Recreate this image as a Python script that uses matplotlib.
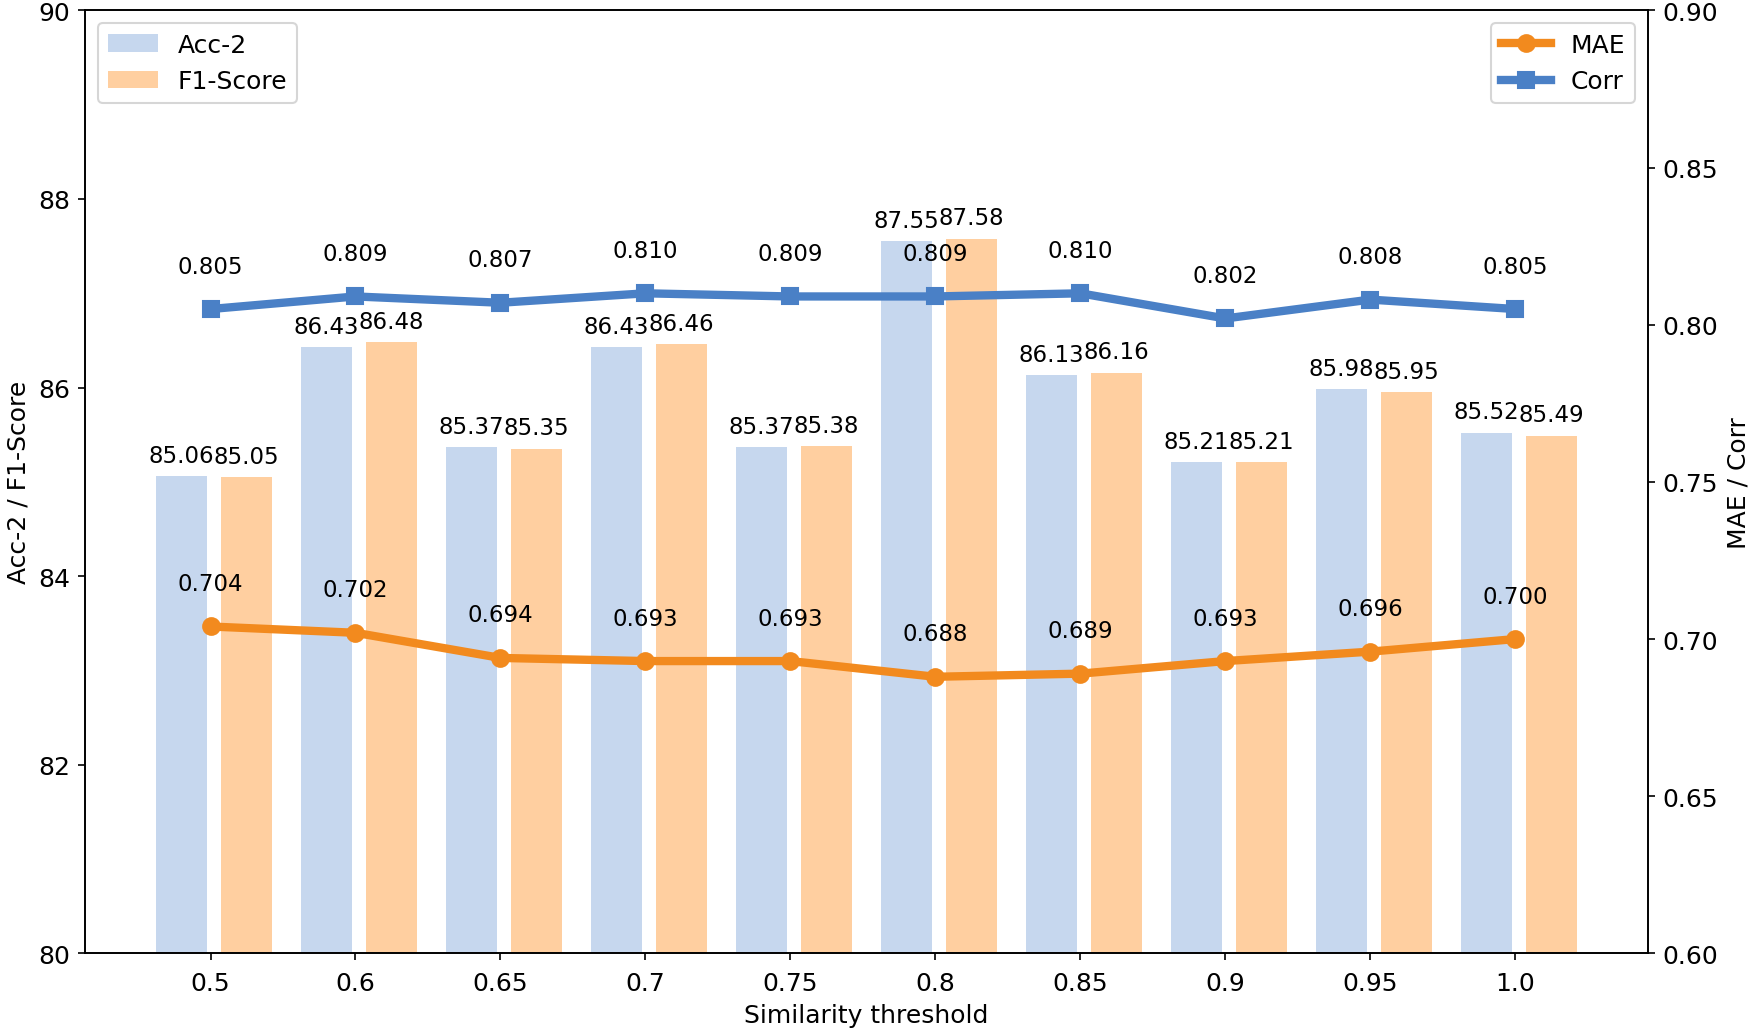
import numpy as np
import matplotlib
matplotlib.use('Agg')
import matplotlib.pyplot as plt

# data
thresholds = ['0.5', '0.6', '0.65', '0.7', '0.75', '0.8', '0.85', '0.9', '0.95', '1.0']
acc2 = [85.06, 86.43, 85.37, 86.43, 85.37, 87.55, 86.13, 85.21, 85.98, 85.52]
f1 = [85.05, 86.48, 85.35, 86.46, 85.38, 87.58, 86.16, 85.21, 85.95, 85.49]
mae = [0.704, 0.702, 0.694, 0.693, 0.693, 0.688, 0.689, 0.693, 0.696, 0.700]
corr = [0.805, 0.809, 0.807, 0.810, 0.809, 0.809, 0.810, 0.802, 0.808, 0.805]

plt.rcParams['font.family'] = ['DejaVu Sans']

fig, ax1 = plt.subplots(figsize=(11.7, 6.893), dpi=150)
fig.subplots_adjust(left=0.0485, right=0.939, top=0.989, bottom=0.077)

x = np.arange(len(thresholds))
width = 0.35

b1 = ax1.bar(x - 0.2, acc2, width, color='#aec7e8', alpha=0.7, label='Acc-2')
b2 = ax1.bar(x + 0.25, f1, width, color='#ffbb78', alpha=0.7, label='F1-Score')
for i in range(len(x)):
    ax1.text(x[i] - 0.2, acc2[i] + 0.1, '%.2f' % acc2[i], ha='center', va='bottom', fontsize=11)
    ax1.text(x[i] + 0.25, f1[i] + 0.1, '%.2f' % f1[i], ha='center', va='bottom', fontsize=11)

ax1.set_ylim(80, 90)
ax1.set_yticks([80, 82, 84, 86, 88, 90])
ax1.set_xticks(x)
ax1.set_xticklabels(thresholds)
ax1.set_xlabel('Similarity threshold', fontsize=12)
ax1.set_ylabel('Acc-2 / F1-Score', fontsize=12)
ax1.tick_params(labelsize=12)
ax1.tick_params(axis='x', pad=5)

ax2 = ax1.twinx()
l1, = ax2.plot(x, mae, color='#f28a1e', marker='o', linewidth=4, markersize=8, label='MAE')
l2, = ax2.plot(x, corr, color='#4a80c6', marker='s', linewidth=4, markersize=8, label='Corr')
for i in range(len(x)):
    ax2.text(x[i], mae[i] + 0.01, '%.3f' % mae[i], ha='center', va='bottom', fontsize=11)
    ax2.text(x[i], corr[i] + 0.01, '%.3f' % corr[i], ha='center', va='bottom', fontsize=11)
ax2.set_ylim(0.60, 0.90)
ax2.set_yticks(np.arange(0.60, 0.901, 0.05))
ax2.set_yticklabels(['%.2f' % v for v in np.arange(0.60, 0.901, 0.05)])
ax2.set_ylabel('MAE / Corr', fontsize=12)
ax2.tick_params(labelsize=12)

ax1.legend(loc='upper left', fontsize=12)
ax2.legend(loc='upper right', fontsize=12)

fig.savefig('out.png')
